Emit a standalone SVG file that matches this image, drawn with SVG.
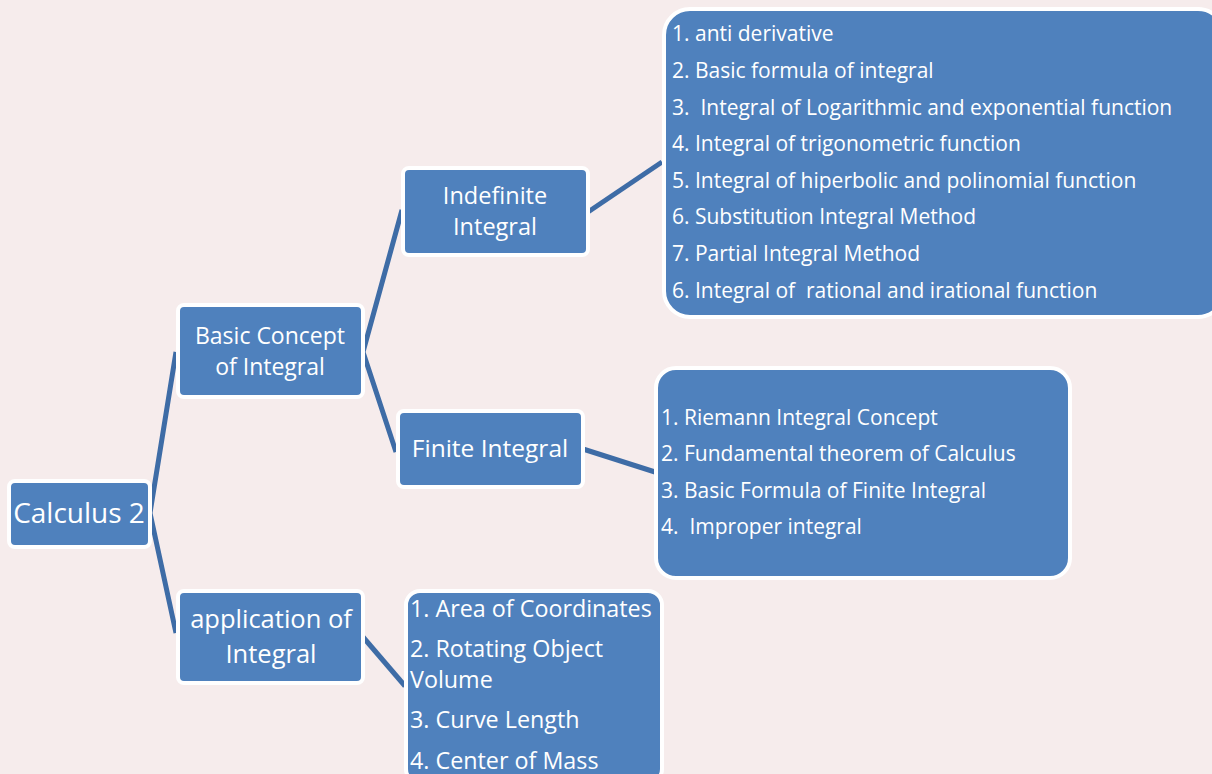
<svg xmlns="http://www.w3.org/2000/svg" width="1212" height="774" viewBox="0 0 1212 774">
<style>
.box{fill:#4F81BD;stroke:#FFFFFF;stroke-width:4}
.t{font-family:"Open Sans",Lato,"Liberation Sans",sans-serif;fill:#FFFFFF;font-variant-ligatures:none}
.c{text-anchor:middle}
.conn{stroke:#3E6CA6;stroke-width:5;fill:none;stroke-linejoin:round}
</style>
<rect width="1212" height="774" fill="#F6ECEC"/>
<g id="connectors">
<polyline class="conn" points="176,352 150,513 176,633"/>
<polyline class="conn" points="402,210 363,352 396,452"/>
<line class="conn" x1="588" y1="212" x2="662" y2="162"/>
<line class="conn" x1="583" y1="449" x2="655" y2="472"/>
<line class="conn" x1="363" y1="637" x2="405" y2="686"/>
</g>
<g id="calculus2">
<rect class="box" x="9" y="481" width="141" height="66" rx="6"/>
<text class="t c" x="79" y="523" font-size="28">Calculus 2</text>
</g>
<g id="basic">
<rect class="box" x="178" y="305" width="185" height="92" rx="6"/>
<text class="t c" x="270" y="344" font-size="23">Basic Concept</text>
<text class="t c" x="270" y="375" font-size="23">of Integral</text>
</g>
<g id="application">
<rect class="box" x="178" y="591" width="185" height="92" rx="6"/>
<text class="t c" x="271" y="628" font-size="25.5">application of</text>
<text class="t c" x="271" y="663" font-size="25.5">Integral</text>
</g>
<g id="indefinite">
<rect class="box" x="403" y="168" width="185" height="87" rx="6"/>
<text class="t c" x="495" y="204" font-size="23.5">Indefinite</text>
<text class="t c" x="495" y="235" font-size="23.5">Integral</text>
</g>
<g id="finite">
<rect class="box" x="398" y="411" width="185" height="76" rx="6"/>
<text class="t c" x="490" y="457" font-size="24.5">Finite Integral</text>
</g>
<g id="indef-list">
<rect class="box" x="664" y="9" width="560" height="308" rx="26"/>
<g class="t" font-size="21">
<text x="672" y="41">1. anti derivative</text>
<text x="672" y="78">2. Basic formula of integral</text>
<text x="672" y="115" xml:space="preserve">3.  Integral of Logarithmic and exponential function</text>
<text x="672" y="151">4. Integral of trigonometric function</text>
<text x="672" y="188">5. Integral of hiperbolic and polinomial function</text>
<text x="672" y="224">6. Substitution Integral Method</text>
<text x="672" y="261">7. Partial Integral Method</text>
<text x="672" y="298" xml:space="preserve">6. Integral of  rational and irational function</text>
</g>
</g>
<g id="finite-list">
<rect class="box" x="656" y="368" width="414" height="210" rx="20"/>
<g class="t" font-size="21">
<text x="661" y="425">1. Riemann Integral Concept</text>
<text x="661" y="461">2. Fundamental theorem of Calculus</text>
<text x="661" y="498">3. Basic Formula of Finite Integral</text>
<text x="661" y="534" xml:space="preserve">4.  Improper integral</text>
</g>
</g>
<g id="app-list">
<rect class="box" x="406" y="591" width="256" height="192" rx="14"/>
<g class="t" font-size="23.3">
<text x="410" y="617">1. Area of Coordinates</text>
<text x="410" y="657">2. Rotating Object</text>
<text x="410" y="688">Volume</text>
<text x="410" y="728">3. Curve Length</text>
<text x="410" y="769">4. Center of Mass</text>
</g>
</g>
</svg>
